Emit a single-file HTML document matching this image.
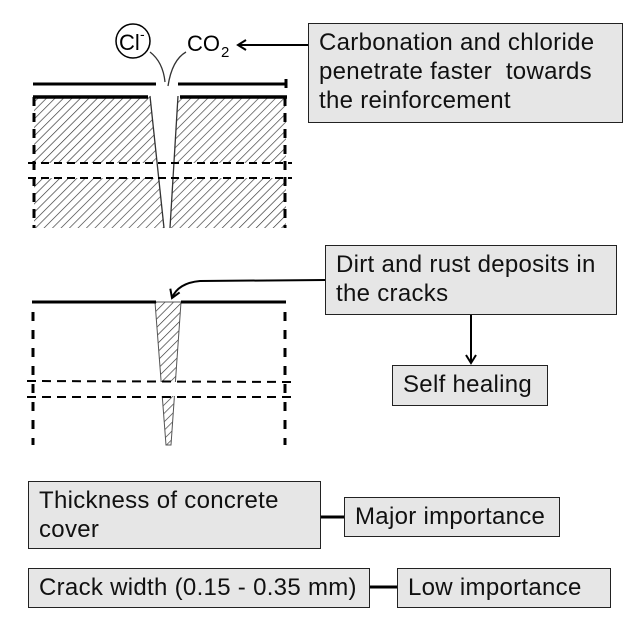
<!DOCTYPE html>
<html><head><style>
body{margin:0;width:632px;height:628px;background:#fff;position:relative;overflow:hidden;font-family:"Liberation Sans",Arial,sans-serif;}
.b{position:absolute;background:#e6e6e6;border:1.5px solid #222;box-sizing:border-box;font-size:24px;letter-spacing:0.3px;line-height:29px;color:#111;padding:4px 10px;white-space:normal;}
svg{position:absolute;left:0;top:0}
</style></head><body>
<svg width="632" height="628">
<defs>
<pattern id="h" patternUnits="userSpaceOnUse" width="6" height="6" patternTransform="rotate(45)">
<rect width="6" height="6" fill="#fff"/><line x1="0" y1="0" x2="0" y2="6" stroke="#333" stroke-width="1.3"/></pattern>
<marker id="a" markerWidth="12" markerHeight="12" refX="9" refY="6" orient="auto" markerUnits="userSpaceOnUse"><path d="M1,1 L9,6 L1,11" fill="none" stroke="#000" stroke-width="2"/></marker>
</defs>
<rect x="34" y="97" width="252" height="66" fill="url(#h)"/>
<rect x="34" y="178" width="252" height="50" fill="url(#h)"/>
<path d="M150,96 L164,228 L170,228 L178,96 Z" fill="#fff"/>
<path d="M150,96 L164,228 M178,96 L170,228" stroke="#333" stroke-width="1.3" fill="none"/>
<path d="M33,84 L156,84 M178,84 L286,84 M286,79 L286,88" stroke="#000" stroke-width="3" fill="none"/>
<path d="M33,97 L148,97 M180,97 L287,97" stroke="#000" stroke-width="3.5" fill="none"/>
<path d="M34,97 L34,228 M285,97 L285,228" stroke="#000" stroke-width="3" stroke-dasharray="9,7" fill="none"/>
<path d="M28,163 L292,163 M28,178 L292,178" stroke="#000" stroke-width="2" stroke-dasharray="8,5" fill="none"/>
<circle cx="133" cy="41" r="17" fill="#fff" stroke="#000" stroke-width="1.5"/>
<text x="119" y="50" font-size="22" font-family="Liberation Sans">Cl</text><text x="140" y="39" font-size="14" font-family="Liberation Sans">-</text>
<text x="187" y="51" font-size="22" font-family="Liberation Sans">CO</text><text x="221" y="57" font-size="15" font-family="Liberation Sans">2</text>
<path d="M150,52 Q163,62 165,82 M186,52 Q172,60 168,86" stroke="#333" stroke-width="1.3" fill="none"/>
<line x1="308" y1="45" x2="238" y2="45" stroke="#000" stroke-width="2" marker-end="url(#a)"/>
<path d="M155,302 L181,302 L171,445 L166,445 Z" fill="url(#h)" stroke="#555" stroke-width="1"/>
<rect x="150" y="382" width="40" height="14" fill="#fff"/>
<path d="M32,302 L156,302 M181,302 L286,302" stroke="#000" stroke-width="3" fill="none"/>
<path d="M33,312 L33,445 M285,312 L285,445" stroke="#000" stroke-width="3" stroke-dasharray="9,9" fill="none"/>
<path d="M27,381 L293,382 M27,397 L293,397" stroke="#000" stroke-width="2" stroke-dasharray="9,6" fill="none"/>
<path d="M325,280 L200,281 Q178,283 172,298" stroke="#000" stroke-width="2" fill="none" marker-end="url(#a)"/>
<line x1="471" y1="315" x2="471" y2="363" stroke="#000" stroke-width="2" marker-end="url(#a)"/>
<line x1="320" y1="517" x2="344" y2="517" stroke="#000" stroke-width="3"/>
<line x1="370" y1="587" x2="397" y2="587" stroke="#000" stroke-width="3"/>
</svg>
<div class="b" style="left:308px;top:23px;width:315px;height:100px;">Carbonation and chloride<br>penetrate faster&nbsp; towards<br>the reinforcement</div>
<div class="b" style="left:325px;top:245px;width:292px;height:70px;">Dirt and rust deposits in<br>the cracks</div>
<div class="b" style="left:392px;top:365px;width:156px;height:41px;padding-top:4px;">Self healing</div>
<div class="b" style="left:28px;top:481px;width:293px;height:68px;">Thickness of concrete<br>cover</div>
<div class="b" style="left:344px;top:497px;width:216px;height:40px;padding-top:4px;">Major importance</div>
<div class="b" style="left:28px;top:568px;width:342px;height:40px;padding-top:4px;white-space:nowrap;">Crack width (0.15 - 0.35 mm)</div>
<div class="b" style="left:397px;top:568px;width:214px;height:40px;padding-top:4px;">Low importance</div>
</body></html>
